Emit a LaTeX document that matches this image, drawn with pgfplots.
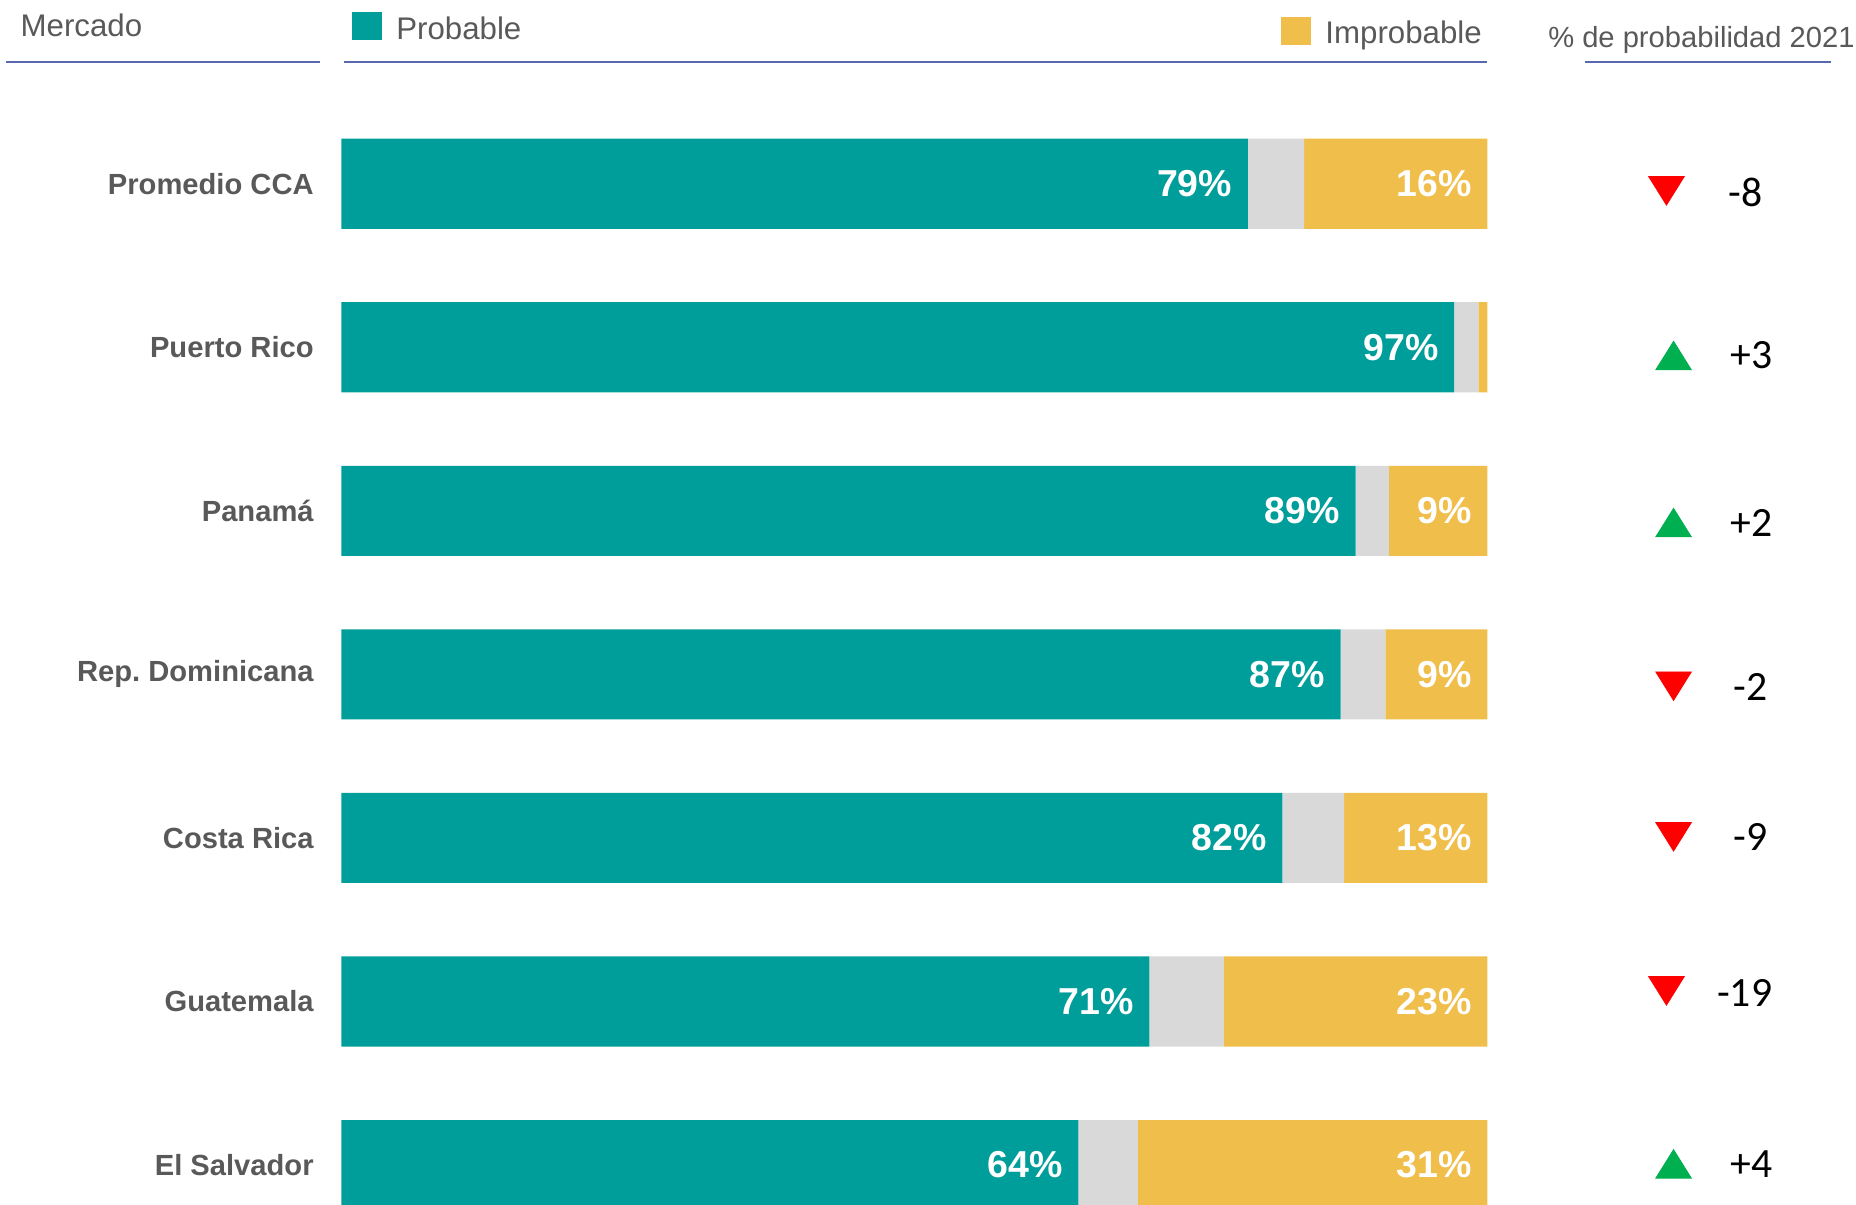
\documentclass[border=0pt]{standalone}
\usepackage{pgfplots}
\pgfplotsset{compat=1.18}
\usepackage{fontspec}
\setmainfont{Liberation Sans}
\newfontfamily\calib{Carlito}
\definecolor{teal1}{RGB}{0,158,154}
\definecolor{gray1}{RGB}{217,217,217}
\definecolor{yel}{RGB}{240,190,74}
\definecolor{lab}{RGB}{89,89,89}
\definecolor{rulec}{RGB}{88,104,172}
\definecolor{upc}{RGB}{0,176,80}
\definecolor{downc}{RGB}{255,0,0}
\begin{document}
\frenchspacing
\begin{tikzpicture}
\pgfplotsset{base/.style={width=31.32cm,height=20.32cm,scale only axis,
  xmin=-29.783,xmax=132.16,ymin=-1.1232,ymax=6.2391,y dir=reverse,clip=false},
  barlab/.style={draw=none, mark=none, nodes near coords, point meta=explicit symbolic,
  every node near coord/.append style={anchor=east, xshift=-0.26cm, inner sep=0pt,
    text=white, font=\fontsize{18}{20}\selectfont\bfseries}}}
\begin{axis}[base, at={(0,0)}, anchor=south west, xbar stacked, bar width=1.52cm,
  axis line style={draw=none}, tick style={draw=none}, xtick=\empty,
  ytick={0,...,6},
  yticklabels={Promedio CCA, Puerto Rico, Panamá, Rep. Dominicana, Costa Rica, Guatemala, El Salvador},
  yticklabel style={anchor=east, inner sep=0pt, xshift=5.3cm,
    font=\fontsize{14}{16}\selectfont\bfseries\frenchspacing, text=lab}]
\addplot[fill=teal1, draw=none]
  coordinates {(79.1,0) (97.1,1) (88.5,2) (87.2,3) (82.1,4) (70.5,5) (64.3,6)};
\addplot[fill=gray1, draw=none]
  coordinates {(4.9,0) (2.1,1) (2.9,2) (3.9,3) (5.4,4) (6.5,5) (5.2,6)};
\addplot[fill=yel, draw=none]
  coordinates {(16.0,0) (0.8,1) (8.6,2) (8.9,3) (12.5,4) (23.0,5) (30.5,6)};
% header
\draw[rulec, line width=0.035cm] (axis cs:-29.27,-0.746) -- (axis cs:-1.861,-0.746);
\draw[rulec, line width=0.035cm] (axis cs:0.207,-0.746) -- (axis cs:100,-0.746);
\draw[rulec, line width=0.035cm] (axis cs:108.48,-0.746) -- (axis cs:129.99,-0.746);
\fill[teal1] (axis cs:0.931,-1.0507) rectangle (axis cs:3.516,-0.8768);
\fill[yel] (axis cs:82.00,-1.0217) rectangle (axis cs:84.59,-0.8478);
\node[anchor=base west, inner sep=0pt, text=lab, font=\fontsize{15}{17}\selectfont] at (axis cs:-28.02,-0.8986) {Mercado};
\node[anchor=base west, inner sep=0pt, text=lab, font=\fontsize{15}{17}\selectfont] at (axis cs:4.757,-0.884) {Probable};
\node[anchor=base west, inner sep=0pt, text=lab, font=\fontsize{15}{17}\selectfont] at (axis cs:85.83,-0.855) {Improbable};
\node[anchor=base west, inner sep=0pt, text=lab, font=\fontsize{14}{16}\selectfont] at (axis cs:105.27,-0.833) {\% de probabilidad 2021};
\end{axis}
\begin{axis}[base, at={(0,0)}, anchor=south west, hide axis]
% value labels at the end of each segment
\addplot[barlab]
  coordinates {(79.1,0)[79\%] (97.1,1)[97\%] (88.5,2)[89\%] (87.2,3)[87\%]
               (82.1,4)[82\%] (70.5,5)[71\%] (64.3,6)[64\%]};
\addplot[barlab]
  coordinates {(100,0)[16\%] (100,2)[9\%] (100,3)[9\%]
               (100,4)[13\%] (100,5)[23\%] (100,6)[31\%]};
\addplot[only marks, mark=triangle*, color=upc, mark size=0.32cm, mark options={xscale=1.08}]
  coordinates {(116.24,1.0797) (116.24,2.101) (116.24,6.022)};
\addplot[only marks, mark=triangle*, color=downc, mark size=0.32cm, mark options={xscale=1.08, rotate=180}]
  coordinates {(115.62,0.0145) (116.24,3.043) (116.24,3.964) (115.62,4.906)};
\addplot[draw=none, mark=none, nodes near coords, point meta=explicit symbolic,
  every node near coord/.append style={anchor=center, inner sep=0pt, text=black,
    font=\calib\fontsize{20}{22}\selectfont}]
  coordinates {(122.54,0.051)[-8] (123.06,1.051)[+3] (123.06,2.072)[+2]
               (122.96,3.080)[-2] (122.96,3.993)[-9] (122.44,4.949)[-19] (123.06,5.993)[+4]};
\end{axis}
\pgfresetboundingbox
\path[use as bounding box] (current axis.south west) rectangle (current axis.north east);
\end{tikzpicture}
\end{document}
